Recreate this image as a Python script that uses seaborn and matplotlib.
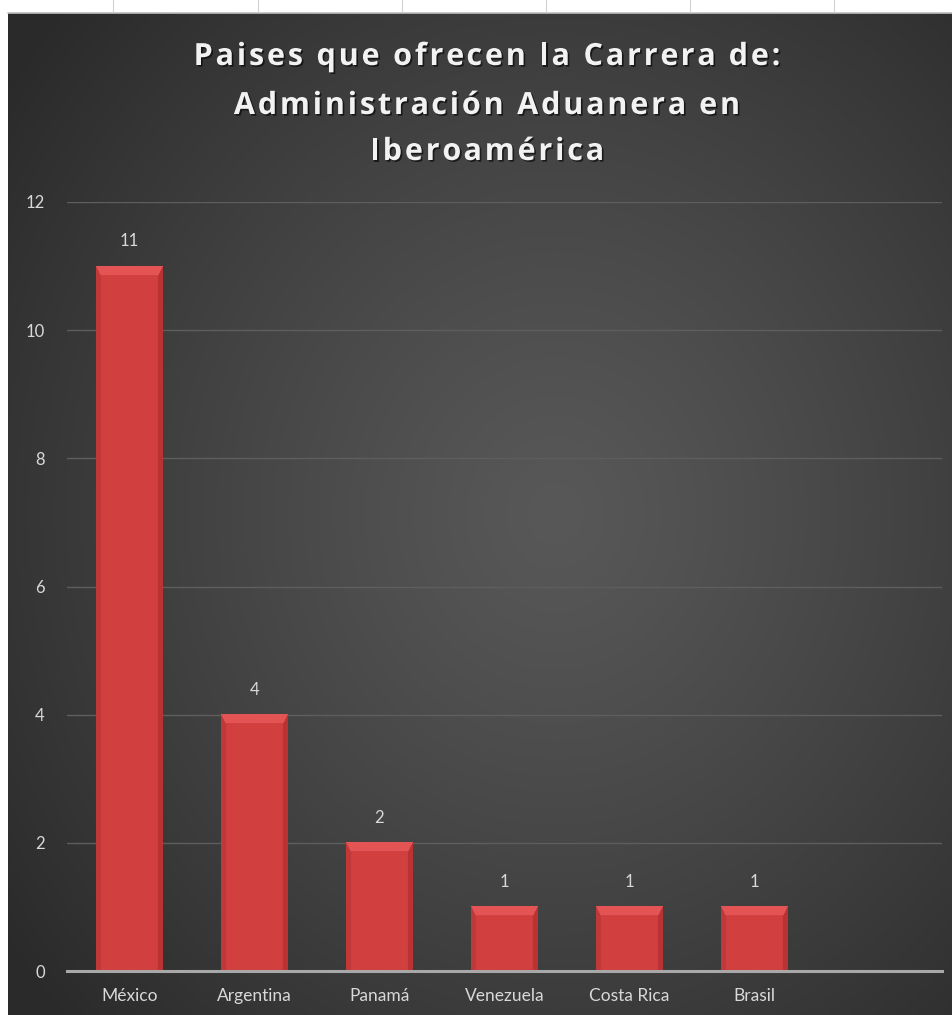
import numpy as np
import pandas as pd
import matplotlib
matplotlib.use("Agg")
import matplotlib.pyplot as plt
import seaborn as sns
from matplotlib import patheffects as pe
from matplotlib.textpath import TextPath
from matplotlib.font_manager import FontProperties

# ---------------- data ----------------
paises = ["México", "Argentina", "Panamá", "Venezuela", "Costa Rica", "Brasil"]
carreras = [11, 4, 2, 1, 1, 1]
y_ticks = [0, 2, 4, 6, 8, 10, 12]
titulo_lineas = ["Paises que ofrecen la Carrera de:",
                 "Administración Aduanera en",
                 "Iberoamérica"]

sns.set_theme(style="dark")
plt.rcParams['font.family'] = ['Lato', 'DejaVu Sans']

W, H = 952, 1015
fig = plt.figure(figsize=(W / 100, H / 100), dpi=100, facecolor='white')

# ---------------- background (radial gradient) ----------------
bg = fig.add_axes([8 / W, 0, (W - 8) / W, (H - 13) / H], zorder=-10)
bg.set_axis_off()
ny, nx = 400, 400
yy, xx = np.mgrid[0:1:ny * 1j, 0:1:nx * 1j]
r = np.sqrt(((xx - 0.58) / 0.72) ** 2 + ((yy - 0.5) / 0.75) ** 2)
r = np.clip(r, 0, 1) ** 1.2
inner = np.array([0x58, 0x58, 0x58]) / 255
outer = np.array([0x2a, 0x2a, 0x2a]) / 255
img = inner[None, None, :] * (1 - r[..., None]) + outer[None, None, :] * r[..., None]
bg.imshow(img, aspect='auto', extent=(0, 1, 0, 1), interpolation='bilinear')
bg.set_xlim(0, 1)
bg.set_ylim(0, 1)

# thin frame line at the top of the dark area and column marks of the sheet
fig.add_artist(plt.Line2D([8 / W, 1], [1 - 12.5 / H] * 2, color='#bdbdbd', lw=1.2))
for xm in [113, 258, 402, 546, 690, 834]:
    fig.add_artist(plt.Line2D([xm / W] * 2, [1 - 12 / H, 1], color='#d0d0d0', lw=0.8))

# ---------------- main axes ----------------
ax = fig.add_axes([67 / W, 44 / H, 875 / W, 769 / H])
ax.set_facecolor('none')
df = pd.DataFrame({"País": paises, "Carreras": carreras})
sns.barplot(data=df, x="País", y="Carreras", color="#d24141", saturation=1,
            width=0.53, ax=ax, zorder=3, edgecolor='none')
ax.set_xlim(-0.5, 6.5)
ax.set_ylim(0, 12)
ax.set_yticks(y_ticks)
ax.set_xlabel('')
ax.set_ylabel('')
ax.yaxis.grid(True, color='#5e5e5e', lw=1.0)
ax.xaxis.grid(False)
ax.set_axisbelow(True)
for s in ['left', 'right', 'top']:
    ax.spines[s].set_visible(False)
ax.spines['bottom'].set_color('#a8a8a8')
ax.spines['bottom'].set_linewidth(2.2)
ax.spines['bottom'].set_zorder(4)
ax.tick_params(axis='y', length=0, pad=16, labelcolor='#d9d9d9', labelsize=12)
ax.tick_params(axis='x', length=0, pad=12, labelcolor='#d9d9d9', labelsize=12.5)

# bevel shading for each bar
px_per_unit = 769 / 12
base = np.array([0.82, 0.25, 0.25])
topc = np.array([0.90, 0.33, 0.33])
leftc = np.array([0.76, 0.22, 0.22])
rightc = np.array([0.73, 0.20, 0.20])
for p in ax.patches:
    x0, y0 = p.get_x(), p.get_y()
    w, h = p.get_width(), p.get_height()
    nrow = max(int(round(h * px_per_unit)), 2)
    ncol = max(int(round(w * 125)), 2)
    arr = np.tile(base, (nrow, ncol, 1))
    side, bev = 5, 9
    arr[:, :side] = leftc
    arr[:, ncol - side:] = rightc
    for i in range(min(bev, nrow)):
        cut = int(round(i / bev * side))
        arr[i, cut:ncol - cut] = topc
    ax.imshow(arr, extent=(x0, x0 + w, y0, y0 + h), aspect='auto',
              interpolation='bilinear', zorder=3.5, origin='upper')
ax.set_xlim(-0.5, 6.5)
ax.set_ylim(0, 12)

ax.bar_label(ax.containers[0], padding=12, color='#d9d9d9', fontsize=12)

# ---------------- title (letter-spaced) ----------------
title_fp = FontProperties(family=['Open Sans', 'DejaVu Sans'], weight='bold', size=22)
shadow = [pe.withSimplePatchShadow(offset=(1.2, -1.2), shadow_rgbFace='black', alpha=0.6)]
pt2px = 100 / 72


def text_width_px(s):
    # width in pixels of string s (bars guard trailing/leading spaces)
    a = TextPath((0, 0), "|" + s + "|", prop=title_fp).get_extents().width
    b = TextPath((0, 0), "||", prop=title_fp).get_extents().width
    return (a - b) * pt2px


spacing = 2.8  # extra px between letters
cx = 487
for txt, yb in zip(titulo_lineas, [65, 114, 160]):
    total = text_width_px(txt) + spacing * (len(txt) - 1)
    x_start = cx - total / 2
    for i, ch in enumerate(txt):
        if ch == ' ':
            continue
        xi = x_start + text_width_px(txt[:i]) + spacing * i
        fig.text(xi / W, 1 - yb / H, ch, ha='left', va='baseline',
                 fontproperties=title_fp, color='#f2f2f2', path_effects=shadow)

fig.savefig("out.png", dpi=100, facecolor='white')
